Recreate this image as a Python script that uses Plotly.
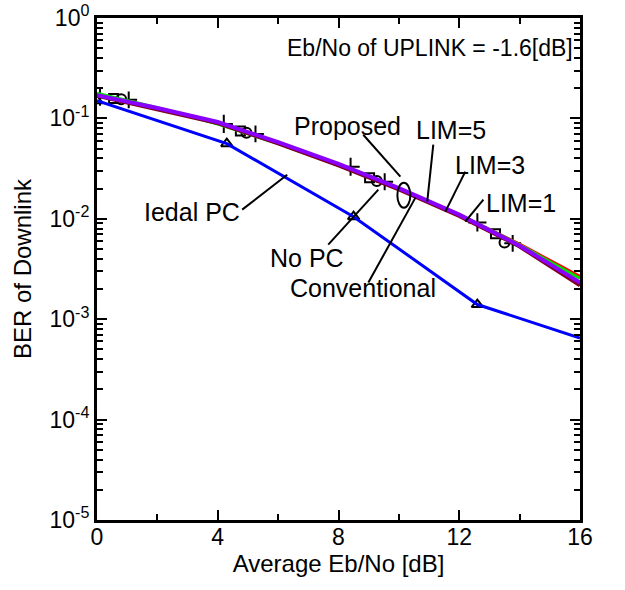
import math
import plotly.graph_objects as go

# ---------------- data ----------------
x_curve = [0, 2, 4, 6, 8, 10, 12, 14, 16]
ber_red = [0.170, 0.126, 0.090, 0.057, 0.0345, 0.0200, 0.0110, 0.0056, 0.00266]
ber_green = [0.178, 0.128, 0.088, 0.056, 0.0340, 0.0198, 0.0110, 0.0055, 0.00255]
ber_maroon = [0.168, 0.124, 0.090, 0.0565, 0.0340, 0.0196, 0.0107, 0.0053, 0.00217]
ber_purple = [0.170, 0.127, 0.092, 0.058, 0.0352, 0.0202, 0.0110, 0.0054, 0.00232]

x_ideal = [0, 4.3, 8.5, 12.6, 16]
ber_ideal = [0.150, 0.056, 0.0105, 0.0014, 0.00065]

x_tri = [0, 4.3, 8.5, 12.6]
ber_tri = [0.150, 0.056, 0.0105, 0.0014]
x_plusA = [0.1, 4.2, 8.4, 12.6]
ber_plusA = [0.165, 0.088, 0.033, 0.0092]
x_sq = [0.55, 4.75, 9.03, 13.2]
ber_sq = [0.158, 0.075, 0.0257, 0.0071]
x_circ = [0.8, 4.95, 9.27, 13.5]
ber_circ = [0.155, 0.072, 0.0238, 0.0058]
x_plusB = [1.05, 5.25, 9.53, 13.77]
ber_plusB = [0.153, 0.070, 0.0234, 0.0057]

y_tickvals = [1, 1e-1, 1e-2, 1e-3, 1e-4, 1e-5]
y_ticktext = ["10<sup>0</sup>", "10<sup>-1</sup>", "10<sup>-2</sup>",
              "10<sup>-3</sup>", "10<sup>-4</sup>", "10<sup>-5</sup>"]
x_tickvals = [0, 4, 8, 12, 16]

FONT = "Liberation Sans, Arial, sans-serif"

fig = go.Figure()
# black simulation markers (drawn below the lines)
for xs, ys, sym, sz in [(x_tri, ber_tri, "triangle-up-open", 10),
                        (x_plusA, ber_plusA, "cross-thin-open", 13),
                        (x_sq, ber_sq, "square-open", 9),
                        (x_circ, ber_circ, "circle-open", 10),
                        (x_plusB, ber_plusB, "cross-thin-open", 12)]:
    fig.add_trace(go.Scatter(x=xs, y=ys, mode="markers",
                             marker=dict(symbol=sym, size=sz, color="black",
                                         line=dict(color="black", width=2)),
                             showlegend=False))

for ys, col, w in [(ber_red, "#ff0000", 3), (ber_green, "#00e000", 3),
                   (ber_maroon, "#800020", 4), (ber_purple, "#8a00ff", 4)]:
    fig.add_trace(go.Scatter(x=x_curve, y=ys, mode="lines",
                             line=dict(color=col, width=w),
                             showlegend=False, hoverinfo="skip"))
fig.add_trace(go.Scatter(x=x_ideal, y=ber_ideal, mode="lines",
                         line=dict(color="#0000ff", width=3), showlegend=False))

# leader lines (data coordinates)
leaders = [
    (8.82, 0.0687, 10.05, 0.0263),   # Proposed
    (10.55, 0.01625, 8.99, 0.00232),  # Conventional
    (7.66, 0.00554, 9.32, 0.0195),    # No PC
    (4.81, 0.01234, 6.30, 0.0275),    # Iedal PC
    (11.14, 0.0547, 10.94, 0.01483),  # LIM=5
    (12.2, 0.0295, 11.54, 0.0118),    # LIM=3
    (12.8, 0.0155, 12.2, 0.00938),    # LIM=1
]
for x0, y0, x1, y1 in leaders:
    fig.add_shape(type="line", xref="x", yref="y", x0=x0, y0=y0, x1=x1, y1=y1,
                  line=dict(color="black", width=2))
fig.add_shape(type="circle", xref="x", yref="y", x0=9.95, x1=10.38,
              y0=0.0129, y1=0.0229, line=dict(color="black", width=2))

labels = [
    ("Proposed", 8.29, -1.074),
    ("Conventional", 8.82, -2.694),
    ("No PC", 6.95, -2.386),
    ("Iedal PC", 3.15, -1.928),
    ("LIM=5", 11.71, -1.113),
    ("LIM=3", 13.03, -1.461),
    ("LIM=1", 14.03, -1.839),
]
for txt, xx, ly in labels:
    fig.add_annotation(x=xx, y=ly, text=txt, showarrow=False,
                       xanchor="center", yanchor="middle",
                       font=dict(family=FONT, size=25, color="black"))
fig.add_annotation(x=15.85, y=-0.298, text="Eb/No of UPLINK = -1.6[dB]",
                   showarrow=False, xanchor="right", yanchor="middle",
                   font=dict(family=FONT, size=23, color="black"))

fig.update_xaxes(range=[0, 16], tickvals=x_tickvals, ticks="inside", ticklen=10,
                 tickwidth=2, tickcolor="black", showline=True, linewidth=3,
                 linecolor="black", mirror="allticks", showgrid=False, zeroline=False,
                 automargin=False, ticklabelstandoff=-6, ticklabeloverflow="allow",
                 minor=dict(tickvals=[2, 6, 10, 14], ticks="inside", ticklen=6,
                            tickwidth=2, tickcolor="black"),
                 tickfont=dict(family=FONT, size=23, color="black"),
                 title=dict(text="Average Eb/No [dB]", standoff=2,
                            font=dict(family=FONT, size=24, color="black")))
fig.update_yaxes(type="log", range=[-5, 0], tickvals=y_tickvals, ticktext=y_ticktext,
                 ticks="inside", ticklen=10, tickwidth=2, tickcolor="black",
                 showline=True, linewidth=3, linecolor="black", mirror="allticks",
                 showgrid=False, zeroline=False, automargin=False,
                 ticklabeloverflow="allow",
                 minor=dict(dtick="D1", ticks="inside", ticklen=6, tickwidth=1.5,
                            tickcolor="black"),
                 tickfont=dict(family=FONT, size=23, color="black"),
                 title=dict(text="BER of Downlink", standoff=12,
                            font=dict(family=FONT, size=24, color="black")))

fig.update_layout(width=625, height=590, plot_bgcolor="white", paper_bgcolor="white",
                  margin=dict(l=97, r=45, t=18, b=70), showlegend=False)
fig.write_html("out.html", config={"displayModeBar": False},
               post_script="document.body.style.margin='0px';")
